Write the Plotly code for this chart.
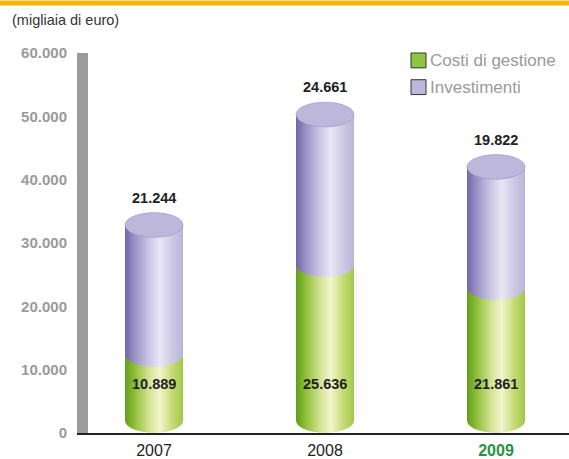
import numpy as np
import plotly.graph_objects as go

# ---- data (migliaia di euro) ----
years = ["2007", "2008", "2009"]
costi_gestione = [10889, 25636, 21861]
investimenti = [21244, 24661, 19822]
y_ticks = [0, 10000, 20000, 30000, 40000, 50000, 60000]
legend_labels = ["Costi di gestione", "Investimenti"]

# ---- layout geometry (pixels) ----
W, H = 569, 459
ML, MR, MT, MB = 77, 0, 53, 22
PW, PH = W - ML - MR, H - MT - MB
SLOT = 171.0                      # pixels between category centres
X0 = -(154 - ML) / SLOT
X1 = X0 + PW / SLOT
RX = 29 / SLOT                    # cylinder half width (x units)
RY = 1950                         # ellipse half height (y units)
LIFT, SQUASH = 2000, 0.96         # perspective of the cylinders on the value axis


def lev(v):
    return LIFT + SQUASH * v


def px_x(p):
    return (p - ML) / PW


def px_y(p):
    return (H - MB - p) / PH


def fmt(v):
    return f"{v:,}".replace(",", ".")


# horizontal shading profiles (left -> right) for the cylinder sides
PURPLE = [(0.0, (112, 102, 165)), (0.15, (150, 142, 196)), (0.42, (204, 200, 228)),
          (0.6, (233, 231, 244)), (0.8, (207, 203, 229)), (1.0, (186, 181, 216))]
GREEN = [(0.0, (98, 158, 30)), (0.15, (138, 188, 52)), (0.42, (212, 228, 150)),
         (0.6, (242, 244, 206)), (0.8, (200, 221, 122)), (1.0, (160, 201, 72))]


def shade(stops, t):
    for (t0, c0), (t1, c1) in zip(stops[:-1], stops[1:]):
        if t <= t1:
            f = (t - t0) / (t1 - t0)
            c = [round(a + (b - a) * f) for a, b in zip(c0, c1)]
            return f"rgb({c[0]},{c[1]},{c[2]})"
    c = stops[-1][1]
    return f"rgb({c[0]},{c[1]},{c[2]})"


def front_arc(cx, yc, x):
    u = (x - cx) / RX
    return yc - RY * np.sqrt(max(0.0, 1 - u * u))


def cylinder_side(cx, y_bottom, y_top, stops, n=58):
    shapes = []
    edges = np.linspace(cx - RX, cx + RX, n + 1)
    overlap = (edges[1] - edges[0]) * 0.6
    for i in range(n):
        xa = edges[i]
        xb = min(edges[i + 1] + overlap, cx + RX)
        col = shade(stops, (i + 0.5) / n)
        arc = [(x, front_arc(cx, y_bottom, x)) for x in np.linspace(xb, xa, 4)]
        path = f"M {xa},{y_top} L {xb},{y_top} " + " ".join(f"L {x},{y}" for x, y in arc) + " Z"
        shapes.append(dict(type="path", path=path, xref="x", yref="y",
                           fillcolor=col, line=dict(width=0)))
    return shapes


shapes = []

# orange band at the top of the page
shapes.append(dict(type="rect", xref="paper", yref="paper",
                   x0=px_x(0), x1=px_x(W), y0=px_y(5), y1=px_y(0),
                   fillcolor="#F7B500", line=dict(width=0)))

# grey bar acting as the value axis
shapes.append(dict(type="rect", xref="paper", yref="y",
                   x0=0, x1=11 / PW, y0=0, y1=60000,
                   fillcolor="#9b9b9b", line=dict(width=0), layer="below"))

annotations = []
for i, (g, inv) in enumerate(zip(costi_gestione, investimenti)):
    total = g + inv
    shapes += cylinder_side(i, lev(0), lev(g), GREEN)
    shapes += cylinder_side(i, lev(g), lev(total), PURPLE)
    shapes.append(dict(type="circle", xref="x", yref="y",
                       x0=i - RX, x1=i + RX, y0=lev(total) - RY, y1=lev(total) + RY,
                       fillcolor="rgb(188,183,219)",
                       line=dict(color="rgba(150,144,192,0.7)", width=0.8)))
    annotations.append(dict(x=i, y=lev(total) + RY, xref="x", yref="y",
                            text=f"<b>{fmt(inv)}</b>", showarrow=False,
                            yanchor="bottom", yshift=5,
                            font=dict(family="Liberation Sans", size=14.5, color="#222")))
    annotations.append(dict(x=i, y=7700, xref="x", yref="y",
                            text=f"<b>{fmt(g)}</b>", showarrow=False,
                            yanchor="middle",
                            font=dict(family="Liberation Sans", size=14.5, color="#222")))

# legend
for (y_top, col, label) in [(53, "#8dc63f", legend_labels[0]),
                            (80, "#bcb8dc", legend_labels[1])]:
    shapes.append(dict(type="rect", xref="paper", yref="paper",
                       x0=px_x(411), x1=px_x(426), y0=px_y(y_top + 15), y1=px_y(y_top),
                       fillcolor=col, line=dict(color="#333", width=1)))
    annotations.append(dict(x=px_x(428), y=px_y(y_top + 8), xref="paper", yref="paper",
                            text=label, showarrow=False, xanchor="left", yanchor="middle",
                            font=dict(family="Liberation Sans", size=17, color="#9a9a9a")))

# unit note
annotations.append(dict(x=px_x(10), y=px_y(20), xref="paper", yref="paper",
                        text="(migliaia di euro)", showarrow=False,
                        xanchor="left", yanchor="middle",
                        font=dict(family="Liberation Sans", size=14.5, color="#333")))

totals = [g + inv for g, inv in zip(costi_gestione, investimenti)]
fig = go.Figure(go.Scatter(x=[0, 1, 2], y=totals, mode="markers",
                           marker=dict(opacity=0), hoverinfo="skip", showlegend=False))

ticktext = years[:-1] + [f"<b><span style='color:#1e9640'>{years[-1]}</span></b>"]

fig.update_layout(
    width=W, height=H,
    margin=dict(l=ML, r=MR, t=MT, b=MB, pad=0),
    paper_bgcolor="white", plot_bgcolor="white",
    separators=",.",
    showlegend=False,
    shapes=shapes, annotations=annotations,
    xaxis=dict(range=[X0, X1], tickvals=[0, 1, 2], ticktext=ticktext,
               showgrid=False, zeroline=False, showline=True,
               linecolor="#222", linewidth=1.5,
               ticks="outside", ticklen=2, tickcolor="rgba(0,0,0,0)",
               tickfont=dict(family="Liberation Sans", size=16, color="#222"),
               fixedrange=True),
    yaxis=dict(range=[0, 60000], tickvals=y_ticks, tickformat=",d",
               showgrid=False, zeroline=False, showline=False,
               ticks="outside", ticklen=6, tickcolor="rgba(0,0,0,0)",
               tickfont=dict(family="Liberation Sans", size=15, color="#9a9a9a",
                             weight="bold"),
               fixedrange=True),
)

fig.write_html("out.html")
